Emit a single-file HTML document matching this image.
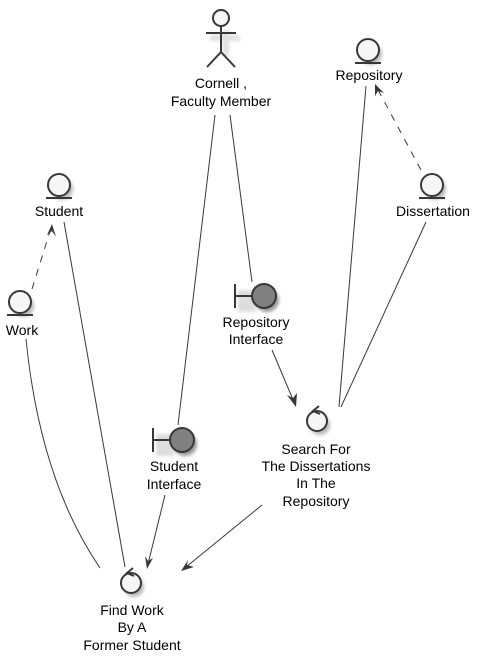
<!DOCTYPE html>
<html><head><meta charset="utf-8"><style>
html,body{margin:0;padding:0;background:#fff;}
svg{display:block;}
text{font-family:"Liberation Sans",sans-serif;font-size:14px;fill:#000;text-anchor:middle;}
</style></head><body>
<svg width="482" height="663" viewBox="0 0 482 663" xmlns="http://www.w3.org/2000/svg">
<defs>
<filter id="sh" x="-50%" y="-50%" width="200%" height="200%"><feGaussianBlur stdDeviation="1.5"/></filter>
</defs>
<g stroke="#383838" fill="none" stroke-width="1">
<line x1="215" y1="115" x2="178" y2="425"/>
<line x1="230" y1="115" x2="252" y2="282"/>
<line x1="272" y1="350" x2="294" y2="402"/>
<line x1="366" y1="86" x2="339" y2="407"/>
<line x1="426" y1="222" x2="341" y2="407"/>
<line x1="421" y1="170" x2="377" y2="88" stroke-dasharray="7,7"/>
<line x1="32" y1="289" x2="51" y2="228" stroke-dasharray="7,7"/>
<line x1="64" y1="222" x2="125" y2="567"/>
<path d="M26 339 Q40 480 100 568"/>
<line x1="165" y1="495" x2="148" y2="564"/>
<line x1="262" y1="505" x2="186" y2="567"/>
</g>
<g fill="#383838">
<polygon points="296,407 287,395 293,398 297,393"/>
<polygon points="375,84 375,96 378,91 384,93"/>
<polygon points="52,224 47,235 52,231 56,237"/>
<polygon points="147,569 145,556 148,561 153,558"/>
<polygon points="181,571 188,560 187,565 194,567"/>
</g>
<g stroke="#ccc" stroke-width="6" opacity="0.6" filter="url(#sh)"><line x1="226" y1="30" x2="226" y2="56"/><line x1="210" y1="38" x2="240" y2="38"/></g>
<g stroke="#383838" stroke-width="2" fill="#f6f6f6">
<circle cx="221" cy="18" r="8"/>
<line x1="221" y1="26" x2="221" y2="52"/>
<line x1="206" y1="33" x2="236" y2="33"/>
<line x1="221" y1="52" x2="207" y2="67"/>
<line x1="221" y1="52" x2="235" y2="67"/>
</g>
<text x="221" y="88">Cornell ,</text>
<text x="221" y="106">Faculty Member</text>
<g>
<circle cx="371" cy="54" r="11" fill="#bbb" filter="url(#sh)"/>
<circle cx="368" cy="50" r="11" fill="#f6f6f6" stroke="#383838" stroke-width="2"/>
<line x1="355" y1="63" x2="381" y2="63" stroke="#383838" stroke-width="2"/>
<circle cx="62" cy="189" r="11" fill="#bbb" filter="url(#sh)"/>
<circle cx="59" cy="185" r="11" fill="#f6f6f6" stroke="#383838" stroke-width="2"/>
<line x1="46" y1="198" x2="72" y2="198" stroke="#383838" stroke-width="2"/>
<circle cx="23" cy="306" r="11" fill="#bbb" filter="url(#sh)"/>
<circle cx="20" cy="302" r="11" fill="#f6f6f6" stroke="#383838" stroke-width="2"/>
<line x1="7" y1="315" x2="33" y2="315" stroke="#383838" stroke-width="2"/>
<circle cx="435" cy="189" r="11" fill="#bbb" filter="url(#sh)"/>
<circle cx="432" cy="185" r="11" fill="#f6f6f6" stroke="#383838" stroke-width="2"/>
<line x1="419" y1="198" x2="445" y2="198" stroke="#383838" stroke-width="2"/>
</g>
<text x="369" y="80">Repository</text>
<text x="59" y="216">Student</text>
<text x="22" y="335">Work</text>
<text x="433" y="216">Dissertation</text>
<g>
<rect x="238" y="290" width="18" height="22" fill="#ddd" filter="url(#sh)"/>
<circle cx="267" cy="300" r="12" fill="#999" filter="url(#sh)"/>
<line x1="235" y1="284" x2="235" y2="308" stroke="#383838" stroke-width="2"/>
<line x1="235" y1="296" x2="252" y2="296" stroke="#383838" stroke-width="2"/>
<circle cx="264" cy="296" r="12" fill="#808080" stroke="#383838" stroke-width="2"/>
<rect x="156" y="434" width="18" height="22" fill="#ddd" filter="url(#sh)"/>
<circle cx="185" cy="444" r="12" fill="#999" filter="url(#sh)"/>
<line x1="153" y1="428" x2="153" y2="452" stroke="#383838" stroke-width="2"/>
<line x1="153" y1="440" x2="170" y2="440" stroke="#383838" stroke-width="2"/>
<circle cx="182" cy="440" r="12" fill="#808080" stroke="#383838" stroke-width="2"/>
</g>
<text x="256" y="327">Repository</text>
<text x="256" y="344">Interface</text>
<text x="174" y="471">Student</text>
<text x="174" y="489">Interface</text>
<g>
<circle cx="320" cy="425" r="10" fill="#bbb" filter="url(#sh)"/>
<circle cx="317" cy="421" r="10" fill="#f6f6f6" stroke="#383838" stroke-width="2"/>
<polyline points="319,406 313,411 320,414" fill="none" stroke="#383838" stroke-width="2"/>
<circle cx="134" cy="587" r="10" fill="#bbb" filter="url(#sh)"/>
<circle cx="131" cy="583" r="10" fill="#f6f6f6" stroke="#383838" stroke-width="2"/>
<polyline points="133,568 127,573 134,576" fill="none" stroke="#383838" stroke-width="2"/>
</g>
<text x="316" y="454">Search For</text>
<text x="316" y="471">The Dissertations</text>
<text x="316" y="488">In The</text>
<text x="316" y="506">Repository</text>
<text x="132" y="615">Find Work</text>
<text x="132" y="632">By A</text>
<text x="132" y="650">Former Student</text>
</svg>
</body></html>
